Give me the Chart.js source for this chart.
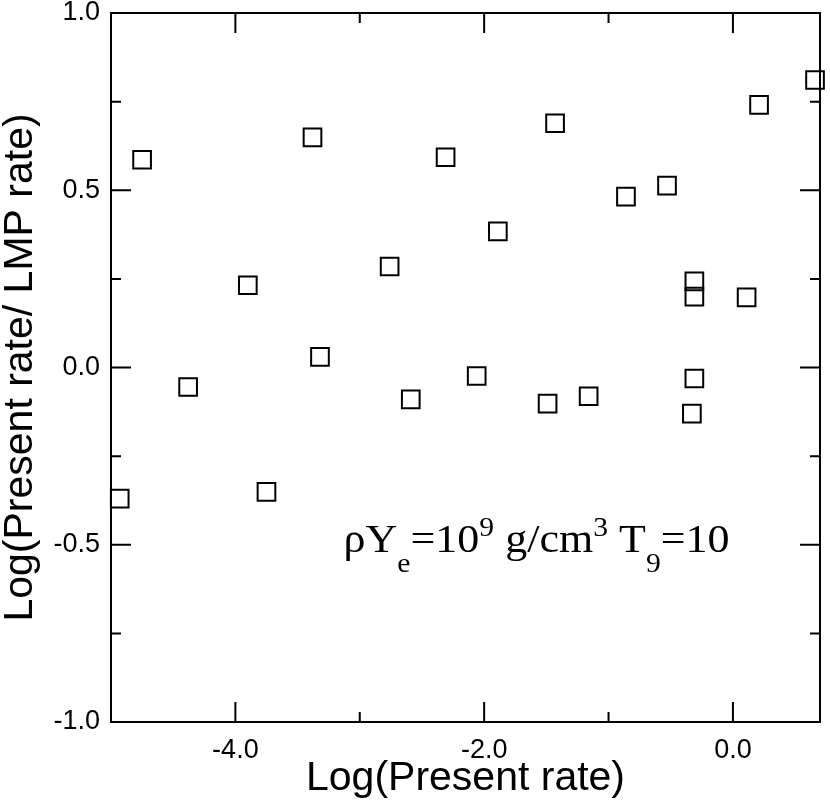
<!DOCTYPE html>
<html><head><meta charset="utf-8">
<script src="https://cdn.jsdelivr.net/npm/chart.js@4.4.1/dist/chart.umd.min.js"></script>
<style>html,body{margin:0;padding:0;background:#fff}#wrap{width:830px;height:807px}</style>
</head><body><div id="wrap"><canvas id="c" width="830" height="807"></canvas></div>
<script>
const presentRate = [-4.93, -4.75, -4.38, -3.90, -3.75, -3.38, -3.32, -2.76, -2.59, -2.31, -2.06, -1.89, -1.49, -1.43, -1.16, -0.86, -0.53, -0.31, -0.31, -0.31, -0.33, 0.11, 0.21, 0.66];
const rateRatio   = [-0.370, 0.586, -0.055, 0.232, -0.351, 0.649, 0.030, 0.285, -0.090, 0.593, -0.024, 0.384, -0.102, 0.689, -0.081, 0.482, 0.513, 0.243, 0.200, -0.031, -0.130, 0.198, 0.741, 0.811];
const xMajorTicks = [-4, -2, 0];
const xMinorTicks = [-5, -3, -1];
const yMajorTicks = [-1, -0.5, 0, 0.5, 1];
const yMinorTicks = [-0.75, -0.25, 0.25, 0.75];
const xRange = [-5, 0.7];
const yRange = [-1, 1];
const xTitle = 'Log(Present rate)';
const yTitle = 'Log(Present rate/ LMP rate)';
const noteAnchor = [-3.13, -0.52];
const noteParts = [
  ['ρY', 'n'], ['e', 'sub'], ['=10', 'n'], ['9', 'sup'], [' g/cm', 'n'], ['3', 'sup'], [' T', 'n'], ['9', 'sub'], ['=10', 'n']
];

const frameTicks = {
  id: 'frameTicks',
  beforeDatasetsDraw(chart) {
    const {ctx, chartArea: a, scales: {x, y}} = chart;
    ctx.save();
    ctx.strokeStyle = '#000';
    ctx.lineWidth = 2;
    ctx.strokeRect(a.left, a.top, a.right - a.left, a.bottom - a.top);
    const tick = (vals, len) => {
      vals.forEach(v => {
        const px = x.getPixelForValue(v);
        ctx.beginPath();
        ctx.moveTo(px, a.bottom); ctx.lineTo(px, a.bottom - len);
        ctx.moveTo(px, a.top); ctx.lineTo(px, a.top + len);
        ctx.stroke();
      });
    };
    const ytick = (vals, len) => {
      vals.forEach(v => {
        const py = y.getPixelForValue(v);
        ctx.beginPath();
        ctx.moveTo(a.left, py); ctx.lineTo(a.left + len, py);
        ctx.moveTo(a.right, py); ctx.lineTo(a.right - len, py);
        ctx.stroke();
      });
    };
    tick(xMajorTicks, 20); tick(xMinorTicks, 10);
    ytick(yMajorTicks, 20); ytick(yMinorTicks, 10);
    ctx.restore();
  },
  afterDraw(chart) {
    const {ctx, scales: {x, y}} = chart;
    const x0 = x.getPixelForValue(noteAnchor[0]);
    const py = y.getPixelForValue(noteAnchor[1]);
    const sx = 1.1;
    ctx.save();
    ctx.translate(x0, py);
    ctx.scale(sx, 1);
    ctx.fillStyle = '#000';
    ctx.textBaseline = 'alphabetic';
    ctx.textAlign = 'left';
    let px = 0;
    noteParts.forEach(([t, k]) => {
      let dy = 0;
      if (k === 'n') ctx.font = '40px "Liberation Serif", "Times New Roman", serif';
      else ctx.font = '27px "Liberation Serif", "Times New Roman", serif';
      if (k === 'sub') dy = 20;
      if (k === 'sup') dy = -16;
      ctx.fillText(t, px, dy);
      px += ctx.measureText(t).width;
    });
    ctx.restore();
  }
};

new Chart(document.getElementById('c'), {
  type: 'scatter',
  data: {
    datasets: [{
      data: presentRate.map((v, i) => ({x: v, y: rateRatio[i]})),
      pointStyle: 'rect',
      pointRadius: 12.5,
      pointHoverRadius: 12.5,
      borderColor: '#000',
      backgroundColor: 'rgba(255,255,255,0)',
      borderWidth: 2,
      clip: false
    }]
  },
  options: {
    responsive: false,
    animation: false,
    devicePixelRatio: 1,
    layout: {autoPadding: false, padding: {left: 0, right: 10, top: 13, bottom: 0}},
    plugins: {legend: {display: false}, tooltip: {enabled: false}},
    scales: {
      x: {
        type: 'linear', min: xRange[0], max: xRange[1],
        afterBuildTicks: s => { s.ticks = xMajorTicks.map(v => ({value: v})); },
        afterFit: s => { s.height = 85; s.paddingLeft = 0; s.paddingRight = 0; },
        grid: {display: false, drawTicks: false},
        border: {display: false},
        ticks: {color: '#000', padding: 12, maxRotation: 0, font: {family: '"Liberation Sans", Arial, sans-serif', size: 27}, callback: v => v.toFixed(1)},
        title: {display: true, text: xTitle, color: '#000', padding: {top: 0, bottom: 8}, font: {family: '"Liberation Sans", Arial, sans-serif', size: 41, lineHeight: 1}}
      },
      y: {
        type: 'linear', min: yRange[0], max: yRange[1],
        afterBuildTicks: s => { s.ticks = yMajorTicks.map(v => ({value: v})); },
        afterFit: s => { s.width = 111; s.paddingTop = 0; s.paddingBottom = 0; },
        grid: {display: false, drawTicks: false},
        border: {display: false},
        ticks: {color: '#000', padding: 11, font: {family: '"Liberation Sans", Arial, sans-serif', size: 27}, callback: v => v.toFixed(1)},
        title: {display: true, text: yTitle, color: '#000', padding: {top: 0, bottom: 0}, font: {family: '"Liberation Sans", Arial, sans-serif', size: 41, lineHeight: 1}}
      }
    }
  },
  plugins: [frameTicks]
});
</script></body></html>
